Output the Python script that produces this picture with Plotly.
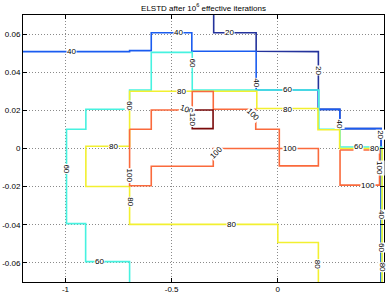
import plotly.graph_objects as go

# ---- contour levels and colours ----
LEVELS = [20, 40, 60, 80, 100, 120]

# ---- contour line vertices (data coordinates) ----
C20_X = [-0.302, -0.302, -0.102, -0.102, 0.191, 0.191, 0.292, 0.292, 0.486, 0.486]
C20_Y = [0.07, 0.0607, 0.0607, 0.0510, 0.0508, 0.0205, 0.0205, 0.0104, 0.0104, -0.07]

C40_X = [-1.2, -0.698, -0.698, -0.596, -0.596, -0.405, -0.405, -0.102, -0.102,
         0.191, 0.191, 0.292, 0.292, 0.487, 0.487]
C40_Y = [0.0508, 0.0508, 0.0513, 0.0513, 0.0607, 0.0607, 0.0510, 0.0510, 0.0307,
         0.0307, 0.0205, 0.0205, 0.0104, 0.0104, -0.07]

C60_X = [-0.698, -0.698, -0.905, -0.905, -0.995, -0.995, -0.904, -0.904, -0.698, -0.698,
         -0.596, -0.596, -0.403, -0.403, 0.193, 0.193, 0.293, 0.293, 0.489, 0.489]
C60_Y = [-0.07, -0.0593, -0.0593, -0.0394, -0.0394, 0.0101, 0.0101, 0.0206, 0.0206, 0.0307,
         0.0307, 0.0504, 0.0504, 0.0307, 0.0307, 0.0101, 0.0101, 0.0008, 0.0008, -0.07]

C80_X = [0.191, 0.191, 0.0, 0.0, -0.698, -0.698, -0.904, -0.904, -0.698, -0.698,
         -0.099, -0.099, 0.189, 0.189, 0.291, 0.291, 0.491, 0.491]
C80_Y = [-0.07, -0.0493, -0.0493, -0.0398, -0.0398, -0.0199, -0.0199, 0.0012, 0.0012, 0.0300,
         0.0300, 0.0210, 0.0210, 0.0098, 0.0098, 0.0, 0.0, -0.07]

C100A_X = [-0.698, -0.596, -0.596, -0.403, -0.403, -0.304, -0.304, -0.104, -0.104, 0.007,
           0.007, 0.191, 0.191, -0.304, -0.304, -0.596, -0.596, -0.698, -0.698]
C100A_Y = [0.0101, 0.0101, 0.0202, 0.0202, 0.0299, 0.0299, 0.0206, 0.0206, 0.0101, 0.0101,
           -0.0091, -0.0091, 0.0, 0.0, -0.0093, -0.0093, -0.0195, -0.0195, 0.0101]
C100B_X = [0.293, 0.293, 0.479, 0.479, 0.293]
C100B_Y = [-0.0008, -0.0192, -0.0192, -0.0008, -0.0008]

C120_X = [-0.403, -0.305, -0.305, -0.403, -0.403]
C120_Y = [0.0202, 0.0202, 0.0104, 0.0104, 0.0202]

# ---- inline contour labels: level, x, y, rotation ----
LAB_LEVEL = [20, 20, 20,
             40, 40, 40, 40, 40,
             60, 60, 60, 60, 60, 60, 60,
             80, 80, 80, 80, 80, 80, 80, 80,
             100, 100, 100, 100, 100, 100, 100,
             120]
LAB_X = [-0.227, 0.191, 0.486,
         -0.97, -0.47, -0.102, 0.292, 0.487,
         -0.995, -0.839, -0.698, -0.403, 0.047, 0.381, 0.489,
         -0.776, -0.698, -0.454, -0.22, 0.047, 0.191, 0.455, 0.491,
         -0.43, -0.118, -0.698, -0.29, 0.055, 0.423, 0.479,
         -0.403]
LAB_Y = [0.0607, 0.041, 0.0075,
         0.0508, 0.0607, 0.0346, 0.0127, -0.0345,
         -0.0107, -0.0593, 0.0225, 0.045, 0.0307, 0.0008, -0.052,
         0.0012, -0.028, 0.030, -0.0398, 0.0205, -0.0606, 0.0, -0.062,
         0.0205, 0.0178, -0.014, -0.0019, 0.0, -0.0192, -0.010,
         0.0150]
LAB_ROT = [0, 90, 90,
           0, 0, 90, 90, 90,
           90, 0, 90, 90, 0, 0, 90,
           0, 90, 0, 0, 0, 90, 0, 90,
           20, 45, 90, -45, 0, 0, 90,
           90]

COLORS = {20: "#24339c", 40: "#1a5cf0", 60: "#46f2e0", 80: "#f2f030",
          100: "#fa6a3c", 120: "#7a0a0a"}

FONT = "Liberation Sans, Arial"

fig = go.Figure()
lines = [(20, C20_X, C20_Y), (40, C40_X, C40_Y), (60, C60_X, C60_Y),
         (80, C80_X, C80_Y), (100, C100A_X, C100A_Y), (100, C100B_X, C100B_Y),
         (120, C120_X, C120_Y)]
for lev, xs, ys in lines:
    fig.add_trace(go.Scatter(x=xs, y=ys, mode="lines",
                             line=dict(color=COLORS[lev], width=1.6),
                             hoverinfo="skip", showlegend=False))

for lev, x, y, r in zip(LAB_LEVEL, LAB_X, LAB_Y, LAB_ROT):
    fig.add_annotation(x=x, y=y, text=str(lev), showarrow=False, textangle=r,
                       font=dict(size=8, color="black", family=FONT),
                       bgcolor="white", borderpad=0, xanchor="center", yanchor="middle")

axis_common = dict(showline=True, linecolor="black", linewidth=1, mirror="ticks",
                   ticks="inside", ticklen=4, tickcolor="black",
                   showgrid=True, gridcolor="#8a8a8a", griddash="1px,2px", gridwidth=1,
                   zeroline=False, automargin=False,
                   tickfont=dict(size=8, color="black", family=FONT))

fig.update_xaxes(range=[-1.2, 0.5], tickvals=[-1, -0.5, 0, 0.5],
                 ticktext=["-1", "-0.5", "0", "0.5"], ticklabelstandoff=-1,
                 **axis_common)
fig.update_yaxes(range=[-0.07, 0.07],
                 tickvals=[-0.06, -0.04, -0.02, 0, 0.02, 0.04, 0.06],
                 ticktext=["-0.06", "-0.04", "-0.02", "0", "0.02", "0.04", "0.06"],
                 **axis_common)

fig.update_layout(
    width=390, height=293,
    margin=dict(l=23, r=6, t=15, b=11),
    paper_bgcolor="white", plot_bgcolor="white",
    title=dict(text="ELSTD after 10<sup>6</sup> effective iterations",
               x=(23 + 384) / 2 / 390, xanchor="center",
               y=1 - 8 / 293, yanchor="middle", yref="container",
               font=dict(size=8, color="black", family=FONT)),
    font=dict(family=FONT),
)

fig.write_html("out.html", config={"displayModeBar": False},
               post_script="document.body.style.margin='0';document.body.style.padding='0';")
